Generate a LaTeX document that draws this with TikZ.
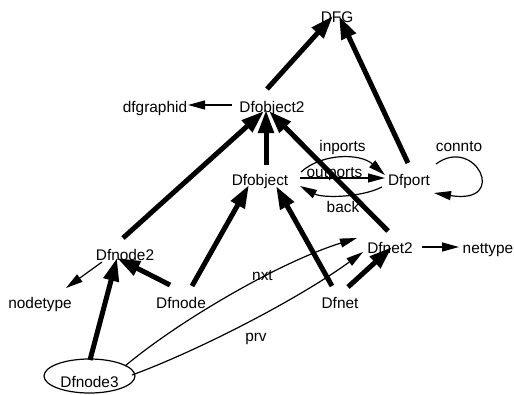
\documentclass[tikz,border=0pt]{standalone}
\usepackage{fontspec}
\setmainfont{Liberation Sans}
\usetikzlibrary{arrows.meta,calc,shapes.geometric}
\begin{document}
\begin{tikzpicture}[x=1pt,y=-1pt,
  txt/.style={anchor=base,inner sep=0pt,font=\fontsize{15.4}{18}\selectfont},
  heavy/.style={line width=5pt,-{Triangle[length=23pt,width=15pt]}},
  light/.style={line width=1.2pt,-{Triangle[length=17pt,width=9pt]}}]
\useasboundingbox (0,0) rectangle (514,394);
\fill[white] (0,0) rectangle (514,394);

% graph nodes (placed by baseline)
\node[txt] (DFG)     at (337,22)  {DFG};
\node[txt] (obj2)    at (272,112) {Dfobject2};
\node[txt] (gid)     at (155,112) {dfgraphid};
\node[txt] (obj)     at (260,185) {Dfobject};
\node[txt] (port)    at (409,185) {Dfport};
\node[txt] (node2)   at (125,260) {Dfnode2};
\node[txt] (ntype)   at (40,308)  {nodetype};
\node[txt] (dnode)   at (181,308) {Dfnode};
\node[txt] (net2)    at (390,253) {Dfnet2};
\node[txt] (nettype) at (488,253) {nettype};
\node[txt] (dnet)    at (340,308) {Dfnet};
\node[draw,ellipse,line width=1.2pt,inner sep=0pt,text height=22pt,text depth=0pt,
      minimum width=91pt,minimum height=34pt,font=\fontsize{15.4}{18}\selectfont]
      (node3) at (89.5,376) {Dfnode3};

% edge labels
\node[txt] (linports)  at (342.5,151) {inports};
\node[txt] (loutports) at (334.5,177) {outports};
\node[txt] (lback)     at (343,212)   {back};
\node[txt] (lconnto)   at (459,151)   {connto};
\node[txt] (lnxt)      at (262.5,280) {nxt};
\node[txt] (lprv)      at (256,341)   {prv};

% inheritance edges
\draw[heavy] ($(obj2.base)+(-5,-23)$) -- ($(DFG.base)+(-4,-6)$);
\draw[heavy] ($(port.base)+(-1,-22)$) -- ($(DFG.base)+(2,-6)$);
\draw[heavy] ($(node2.base)+(-2,-22)$) -- ($(obj2.base)+(-8,-1)$);
\draw[heavy] ($(obj.base)+(6,-20)$) -- ($(obj2.base)+(-6,-2)$);
\draw[heavy] ($(net2.base)+(-2,-22)$) -- ($(obj2.base)+(-3,-1)$);
\draw[heavy] ($(dnode.base)+(11,-22)$) -- ($(obj.base)+(-11,0)$);
\draw[heavy] ($(dnet.base)+(-8,-22)$) -- ($(obj.base)+(16,1)$);
\draw[heavy] ($(dnode.base)+(-11,-23)$) -- ($(node2.base)+(-8,-2)$);
\draw[heavy] ($(node3.center)+(0.5,-16)$) -- ($(node2.base)+(-8,-2)$);
\draw[heavy] ($(dnet.base)+(8,-21)$) -- ($(net2.base)+(2,-6)$);

% attribute edges
\draw[light] ($(obj2.base)+(-40,-7)$) -- ($(gid.base)+(33,-7)$);
\draw[light] ($(node2.base)+(-23,2)$) -- ($(ntype.base)+(26,-20)$);
\draw[light] ($(net2.base)+(32,-6)$) -- ($(nettype.base)+(-29,-6)$);
\draw[light] ($(obj.base)+(41,-13)$) .. controls (322,153) and (360,153) .. ($(port.base)+(-24,-10)$);
\draw[light] ($(obj.base)+(40,-7)$) -- ($(port.base)+(-24,-7)$);
\draw[light] ($(port.base)+(-27,2)$) .. controls (360,198) and (322,198) .. ($(obj.base)+(40,1)$);
\draw[light] ($(port.base)+(27,-21)$) .. controls (475,135) and (510,205) .. ($(port.base)+(25,8)$);
\draw[light] ($(node3.center)+(35.5,-10)$) .. controls (180,320) and (280,262) .. ($(net2.base)+(-33,-15)$);
\draw[light] ($(node3.center)+(42.5,-1)$) .. controls (200,350) and (300,298) .. ($(net2.base)+(-27,-1)$);
\end{tikzpicture}
\end{document}
